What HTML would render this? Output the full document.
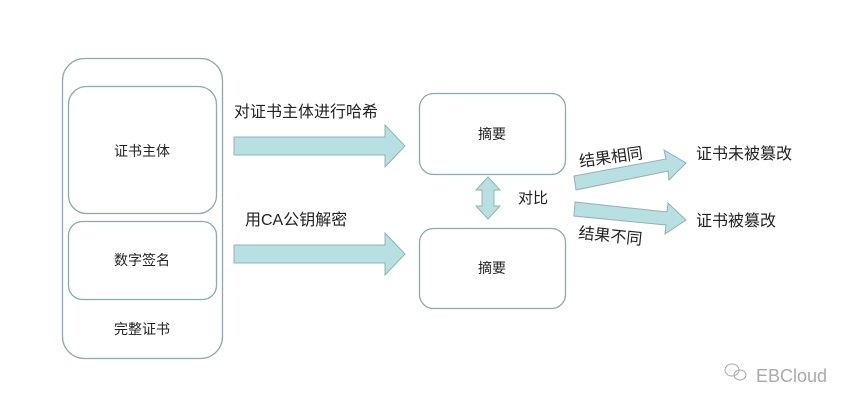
<!DOCTYPE html>
<html><head><meta charset="utf-8"><style>
body{margin:0;background:#fff;width:864px;height:408px;overflow:hidden}
svg text{font-family:"Liberation Sans","Noto Sans CJK SC",sans-serif;fill:#222}
</style></head><body>
<svg width="864" height="408" xmlns="http://www.w3.org/2000/svg">
<g fill="none" stroke="#8fa8a8" stroke-width="1.3">
<rect x="62.5" y="58.5" width="160" height="300" rx="22"/>
<rect x="68.5" y="86.5" width="148" height="127" rx="18"/>
<rect x="68.5" y="221.5" width="148" height="78" rx="14"/>
<rect x="419.5" y="93.5" width="146" height="81" rx="14"/>
<rect x="419.5" y="228.5" width="146" height="80" rx="14"/>
</g>
<g fill="#b8dfe2" stroke="#8fb3b6" stroke-width="1">
<polygon points="234,137 385,137 385,125 405,146 385,167 385,155 234,155"/>
<polygon points="234,245 385,245 385,233 405,254 385,275 385,263 234,263"/>
<polygon points="488,177 500,190 494,190 494,206 500,206 488,219 476,206 482,206 482,190 476,190"/>
<polygon points="574,176 666,159 664,150 686,163 669,180 668,171 576,190"/>
<polygon points="575,202 667,212 668,203 686,220 665,234 666,225 574,216"/>
</g>
<g font-size="14" text-anchor="middle">
<text x="142" y="156">证书主体</text>
<text x="142" y="265">数字签名</text>
<text x="142" y="334">完整证书</text>
<text x="492" y="139">摘要</text>
<text x="492" y="273">摘要</text>
</g>
<g font-size="16" fill="#333">
<text x="234" y="117">对证书主体进行哈希</text>
<text x="245" y="225">用CA公钥解密</text>
<text x="518" y="203" font-size="15">对比</text>
<text x="696" y="159">证书未被篡改</text>
<text x="696" y="226">证书被篡改</text>
<text x="580" y="167" transform="rotate(-8 580 167)">结果相同</text>
<text x="578" y="238" transform="rotate(6 578 238)">结果不同</text>
</g>
<g stroke="#aaa" fill="none" stroke-width="1">
<ellipse cx="732" cy="370" rx="7" ry="6"/>
<ellipse cx="740" cy="375" rx="6" ry="5"/>
</g>
<text x="756" y="382" font-size="18" style="fill:#aaa">EBCloud</text>
</svg>
</body></html>
